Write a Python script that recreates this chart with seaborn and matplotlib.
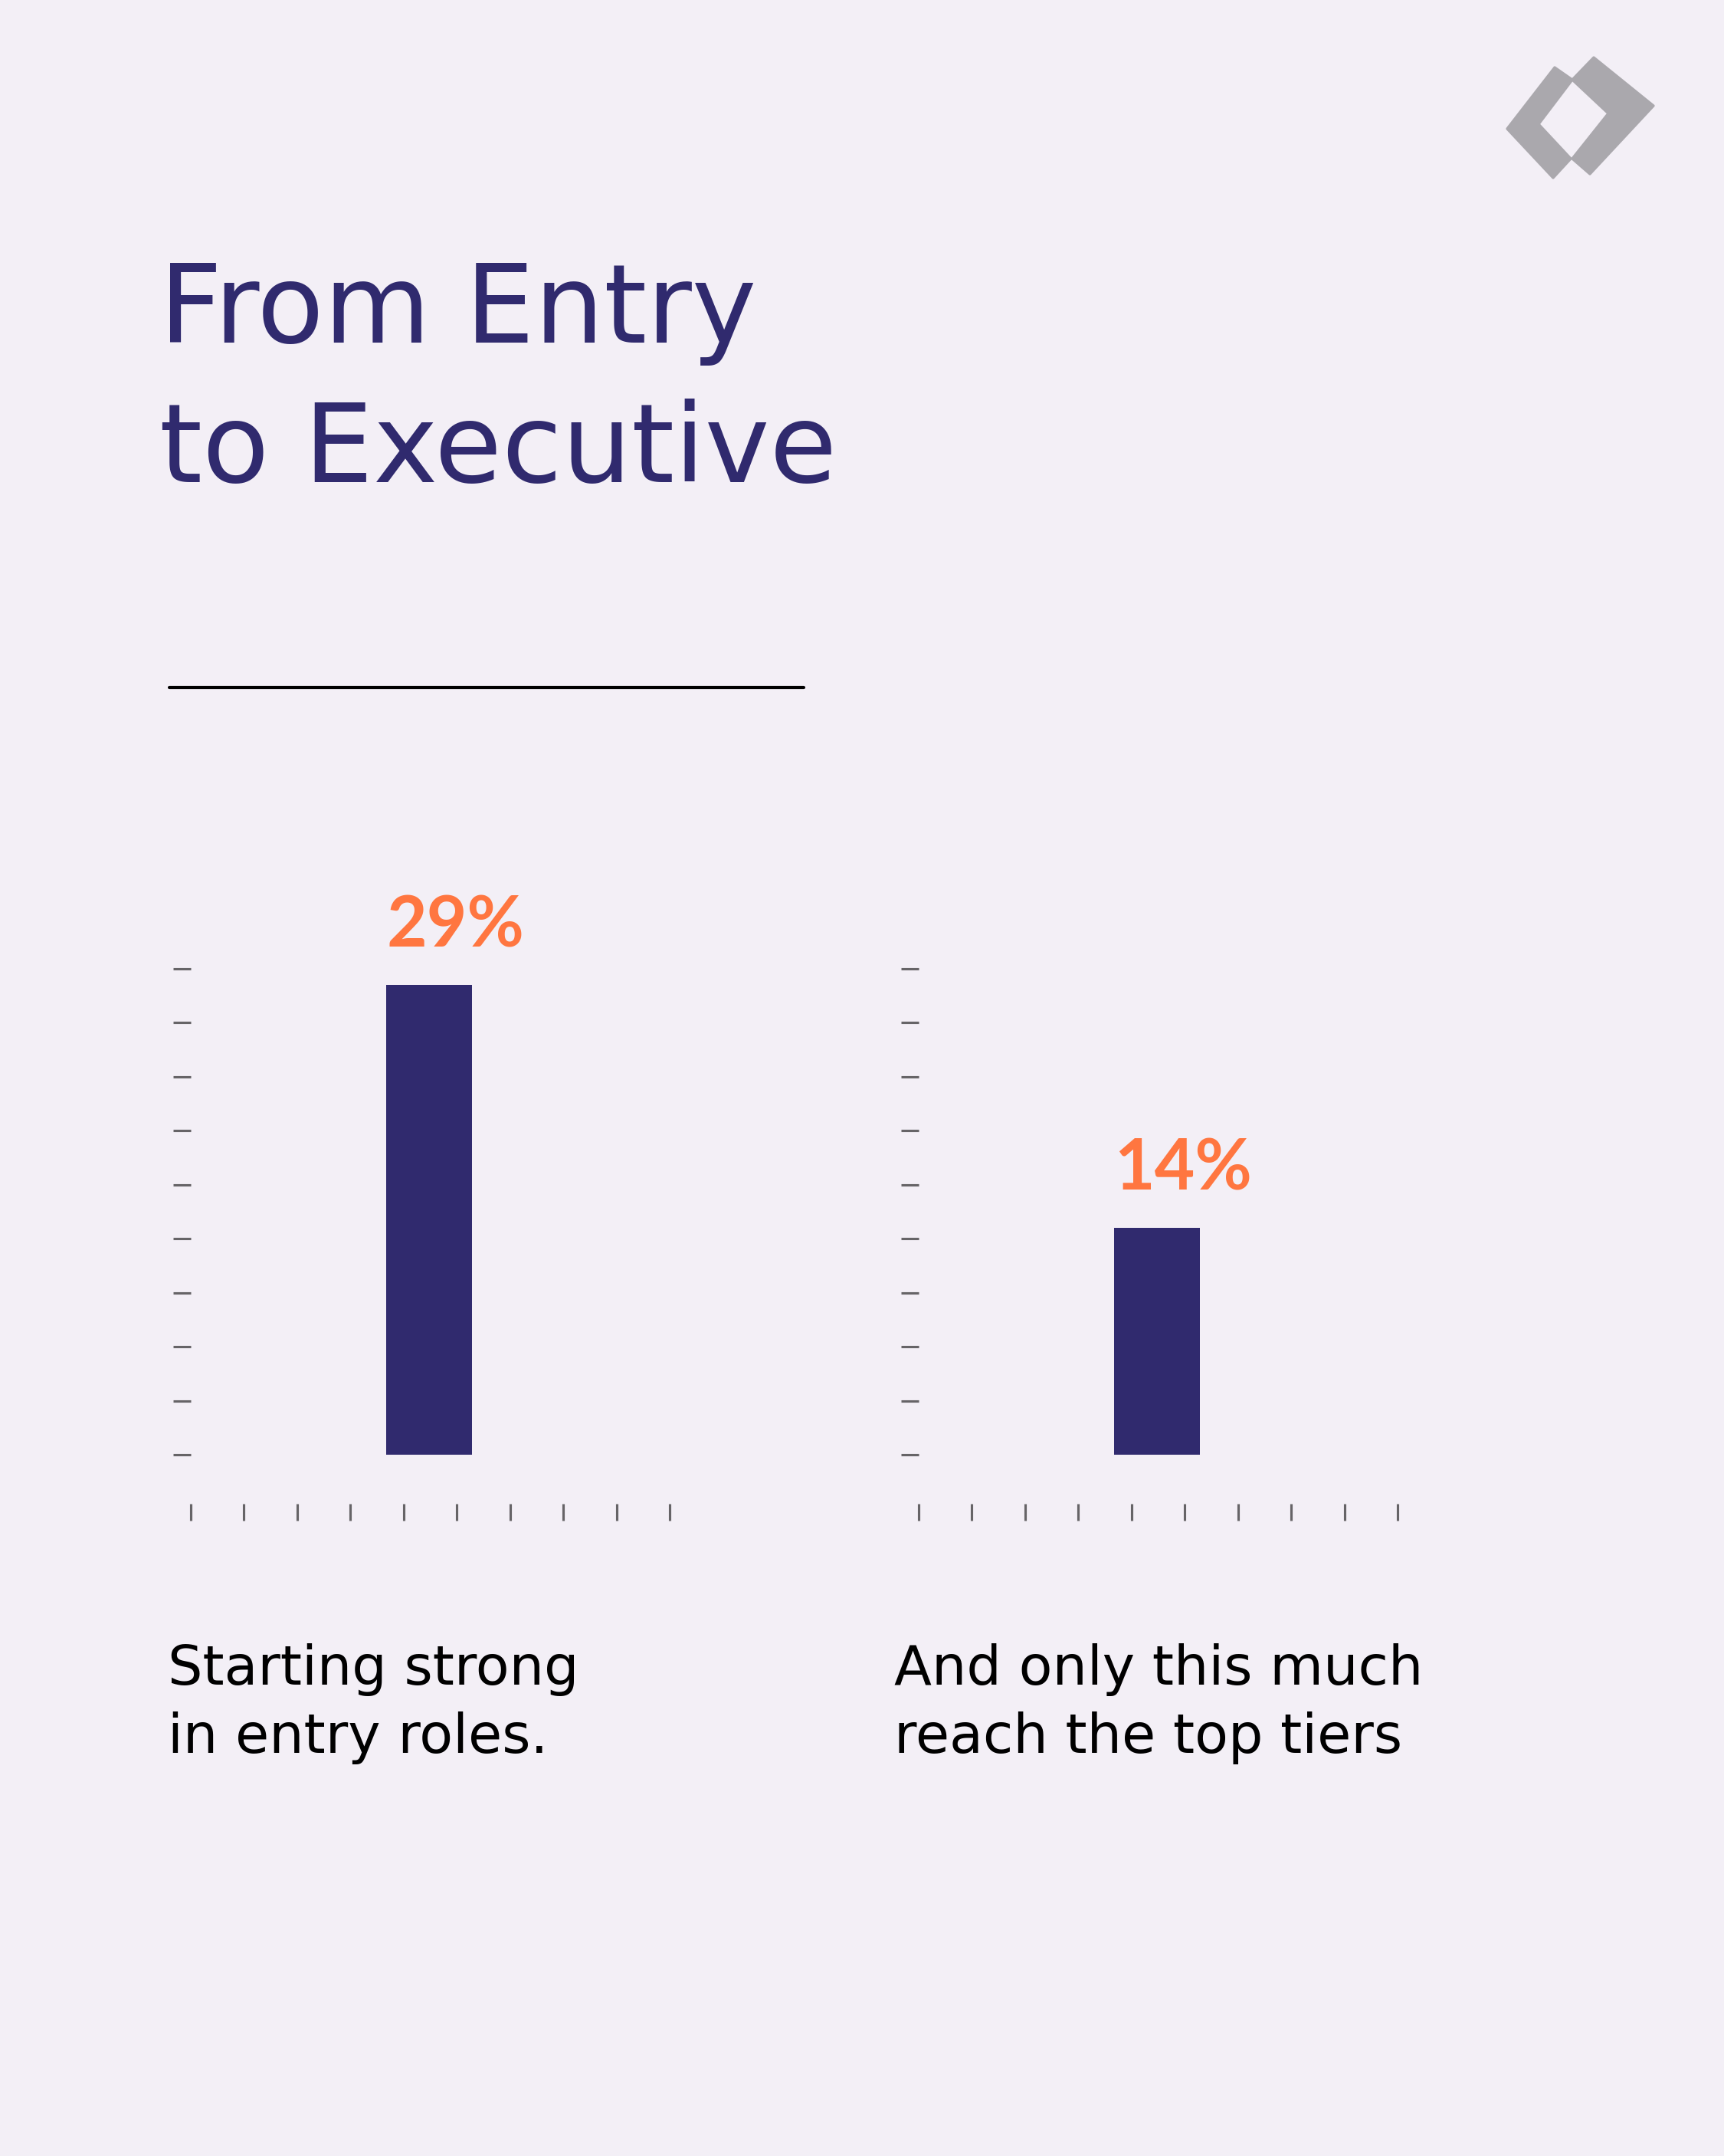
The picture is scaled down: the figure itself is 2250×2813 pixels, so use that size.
import numpy as np
import matplotlib.pyplot as plt
from matplotlib.patches import Polygon
import seaborn as sns

# chart content
title_lines = ["From Entry", "to Executive"]
categories = ["Entry roles", "Top tiers"]
shares = [29, 14]
share_labels = ["29%", "14%"]
captions = ["Starting strong\nin entry roles.", "And only this much\nreach the top tiers"]

BG = "#F3EFF6"
NAVY = "#302A6E"
ORANGE = "#FF7640"
TICK = "#666467"
LOGO = "#AAA8AD"

sns.set_theme(style="white", rc={"axes.facecolor": BG, "figure.facecolor": BG})
plt.rcParams["font.family"] = ["DejaVu Sans"]

W, H = 2250, 2813
fig = plt.figure(figsize=(W / 300, H / 300), dpi=300)


def fx(px):
    return px / W


def fy(py):
    return 1 - py / H


# title
for i, line in enumerate(title_lines):
    fig.text(fx(208), fy(447 + 182 * i), line, fontsize=34.3, color=NAVY,
             ha="left", va="baseline")

# rule under the title
fig.add_artist(plt.Line2D([fx(221), fx(1049)], [fy(897), fy(897)], color="black", lw=1.0))

# logo (two interlocking chevrons)
logo_left = [(2029, 88), (2052, 104), (2008, 162), (2050, 207), (2027, 232), (1967, 168)]
logo_right = [(2080, 75), (2158, 138), (2075, 227), (2052, 207), (2099, 148), (2052, 104)]
for shape in (logo_left, logo_right):
    fig.add_artist(Polygon([(fx(x), fy(y)) for x, y in shape], closed=True,
                           transform=fig.transFigure, facecolor=LOGO, edgecolor=LOGO,
                           lw=0.8, joinstyle="round"))

panel_left = [249, 1199]
xlo, xhi = -2.22, 2.24
for k, (cat, val, lab, cap) in enumerate(zip(categories, shares, share_labels, captions)):
    ax = fig.add_axes([fx(panel_left[k]), fy(1898), 625 / W, 634 / H])
    sns.barplot(x=[cat], y=[val], color=NAVY, saturation=1, width=0.8, linewidth=0, ax=ax)
    ax.set_xlim(xlo, xhi)
    ax.set_ylim(0, 30)
    ax.set_xticks(np.linspace(xlo, xhi, 10))
    ax.set_yticks(np.linspace(0, 30, 10))
    ax.set_xticklabels([])
    ax.set_yticklabels([])
    ax.set_xlabel("")
    ax.set_ylabel("")
    ax.spines["bottom"].set_position(("outward", 15.4))
    for s in ax.spines.values():
        s.set_visible(False)
    ax.tick_params(axis="x", bottom=True, length=5.3, width=0.75, color=TICK, direction="out")
    ax.tick_params(axis="y", left=True, length=5.5, width=0.75, color=TICK, direction="out")

    bar = ax.patches[0]
    ax.annotate(lab, (bar.get_x(), bar.get_height()), xytext=(0, 12),
                textcoords="offset points", ha="left", va="baseline",
                color=ORANGE, fontsize=21.8, fontweight="bold",
                family=["Lato", "DejaVu Sans"])

    # caption below the panel
    cap_x = [219, 1167][k]
    for j, line in enumerate(cap.split("\n")):
        fig.text(fx(cap_x), fy(2198 + 89 * j), line, fontsize=17.2, color="black",
                 ha="left", va="baseline")

fig.savefig("out.png", dpi=300, facecolor=BG)
